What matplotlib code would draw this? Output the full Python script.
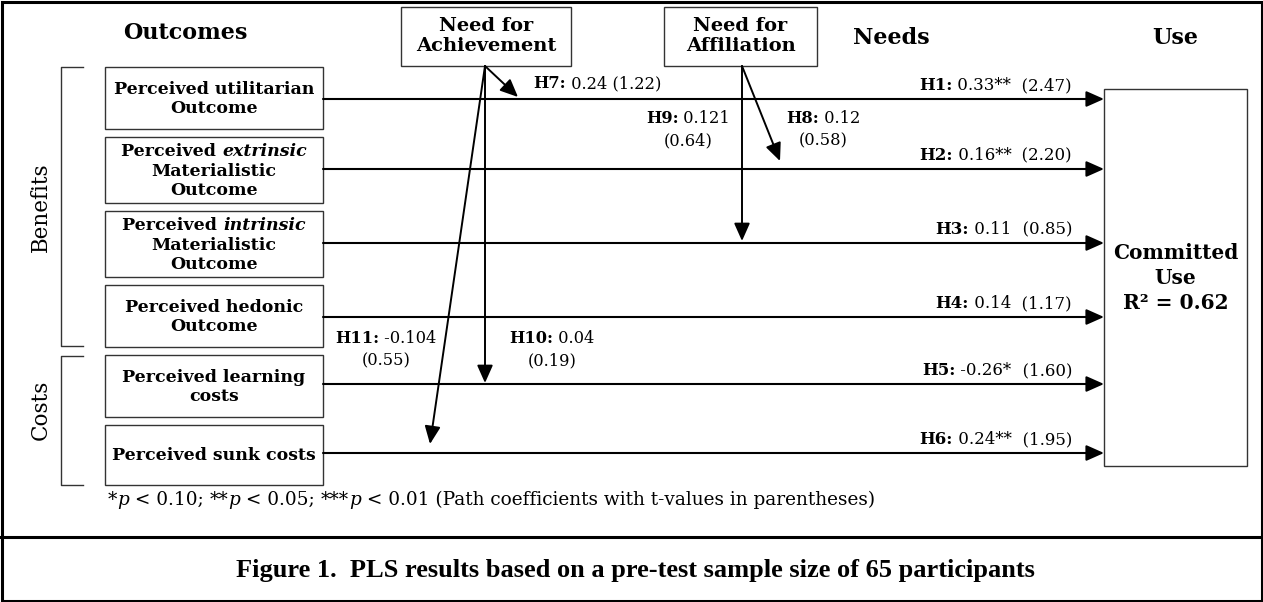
import matplotlib
matplotlib.use("Agg")
import matplotlib.pyplot as plt
from matplotlib.patches import Rectangle
from matplotlib.offsetbox import TextArea, HPacker, VPacker, AnnotationBbox

# ---------------- data ----------------
outcome_labels = [
    [[("Perceived utilitarian", "b")], [("Outcome", "b")]],
    [[("Perceived ", "b"), ("extrinsic", "bi")], [("Materialistic", "b")], [("Outcome", "b")]],
    [[("Perceived ", "b"), ("intrinsic", "bi")], [("Materialistic", "b")], [("Outcome", "b")]],
    [[("Perceived hedonic", "b")], [("Outcome", "b")]],
    [[("Perceived learning", "b")], [("costs", "b")]],
    [[("Perceived sunk costs", "b")]],
]
direct_ids = ["H1", "H2", "H3", "H4", "H5", "H6"]
direct_coef = ["0.33", "0.16", "0.11", "0.14", "-0.26", "0.24"]
direct_stars = ["**", "**", "", "", "*", "**"]
direct_t = ["2.47", "2.20", "0.85", "1.17", "1.60", "1.95"]

moder_ids = ["H7", "H8", "H9", "H10", "H11"]
moder_coef = ["0.24", "0.12", "0.121", "0.04", "-0.104"]
moder_t = ["1.22", "0.58", "0.64", "0.19", "0.55"]

headers = ["Outcomes", "Needs", "Use"]
needs = ["Need for\nAchievement", "Need for\nAffiliation"]
groups = ["Benefits", "Costs"]
target_label = ["Committed", "Use", "R² = 0.62"]
caption = "Figure 1.  PLS results based on a pre-test sample size of 65 participants"

# ---------------- layout ----------------
W, H = 1263, 602
SERIF = "DejaVu Serif"
fig = plt.figure(figsize=(W / 100, H / 100), dpi=100)
ax = fig.add_axes([0, 0, 1, 1])
ax.set_xlim(0, W)
ax.set_ylim(H, 0)
ax.axis("off")

STY = {"b": dict(fontweight="bold"), "bi": dict(fontweight="bold", fontstyle="italic"),
       "r": dict(), "i": dict(fontstyle="italic")}


def rich(lines, xy, size, align=(0.5, 0.5), halign="center", sep=1):
    rows = []
    for line in lines:
        kids = []
        for txt, st in line:
            tp = dict(fontfamily=SERIF, fontsize=size, color="black")
            tp.update(STY[st])
            kids.append(TextArea(txt, textprops=tp))
        rows.append(HPacker(children=kids, align="baseline", pad=0, sep=0))
    box = VPacker(children=rows, align=halign, pad=0, sep=sep)
    ab = AnnotationBbox(box, xy, xycoords="data", box_alignment=align, frameon=False, pad=0)
    ax.add_artist(ab)


def arrow(p0, p1, lw=1.5):
    ax.annotate("", xy=p1, xytext=p0, xycoords="data",
                arrowprops=dict(arrowstyle="-|>,head_length=0.9,head_width=0.4", lw=lw,
                                color="black", shrinkA=0, shrinkB=0, mutation_scale=12))


# frame
ax.add_patch(Rectangle((1.5, 1.5), W - 3, H - 3, fill=False, lw=2.2, ec="black"))
ax.plot([0, W], [537, 537], color="black", lw=2.2)

# headers
for txt, x, y in zip(headers, [185, 891, 1175], [33, 38, 38]):
    ax.text(x, y, txt, ha="center", va="center", fontfamily=SERIF, fontsize=16, fontweight="bold")

# outcome boxes
box_x0, box_x1 = 105, 323
box_tops = [67, 137, 211, 285, 355, 425]
box_bots = [129, 203, 277, 347, 417, 485]
line_y = [99, 169, 243, 317, 384, 453]
for i, lab in enumerate(outcome_labels):
    ax.add_patch(Rectangle((box_x0, box_tops[i]), box_x1 - box_x0, box_bots[i] - box_tops[i],
                           fill=False, lw=1.0, ec="#333333"))
    rich(lab, ((box_x0 + box_x1) / 2, (box_tops[i] + box_bots[i]) / 2 + 1), 12.5, sep=2)

# target box
tx0, tx1, ty0, ty1 = 1104, 1247, 89, 466
ax.add_patch(Rectangle((tx0, ty0), tx1 - tx0, ty1 - ty0, fill=False, lw=1.0, ec="#333333"))
ax.text((tx0 + tx1) / 2, 278, "\n".join(target_label), ha="center", va="center", fontfamily=SERIF,
        fontsize=14.5, fontweight="bold", linespacing=1.3)

# direct paths
for i in range(6):
    arrow((box_x1, line_y[i]), (tx0, line_y[i]), lw=1.5)
    parts = [(direct_ids[i] + ":", "b"), (" " + direct_coef[i] + direct_stars[i], "r"),
             ("  (" + direct_t[i] + ")", "r")]
    rich([parts], (1072, line_y[i] - 5), 12, align=(1, 0))

# need boxes
need_boxes = [(401, 571), (664, 817)]
for (x0, x1), txt in zip(need_boxes, needs):
    ax.add_patch(Rectangle((x0, 7), x1 - x0, 59, fill=False, lw=1.0, ec="#333333"))
    ax.text((x0 + x1) / 2, 36, txt, ha="center", va="center", fontfamily=SERIF, fontsize=14,
            fontweight="bold", linespacing=1.1)

# moderating arrows
ach, aff = (485, 66), (742, 66)
arrow(ach, (518, 97), lw=1.4)      # H7
arrow(ach, (485, 383), lw=1.4)     # H10
arrow(ach, (430, 444), lw=1.4)     # H11
arrow(aff, (742, 241), lw=1.4)     # H9
arrow(aff, (780, 161), lw=1.4)     # H8

mlab = dict(zip(moder_ids, zip(moder_coef, moder_t)))
MS = 11.7
rich([[("H7:", "b"), (" %s (%s)" % mlab["H7"], "r")]], (533, 84), MS, align=(0, 0.5))
rich([[("H9:", "b"), (" " + mlab["H9"][0], "r")], [("(%s)" % mlab["H9"][1], "r")]],
     (688, 130), MS, sep=4)
rich([[("H8:", "b"), (" " + mlab["H8"][0], "r")], [("(%s)" % mlab["H8"][1], "r")]],
     (823, 130), MS, sep=4)
rich([[("H11:", "b"), (" " + mlab["H11"][0], "r")], [("(%s)" % mlab["H11"][1], "r")]],
     (386, 350), MS, sep=4)
rich([[("H10:", "b"), (" " + mlab["H10"][0], "r")], [("(%s)" % mlab["H10"][1], "r")]],
     (552, 350), MS, sep=4)

# group brackets
for (y0, y1), txt, yc in zip([(67, 346), (356, 485)], groups, [207, 410]):
    ax.plot([83, 61, 61, 83], [y0, y0, y1, y1], color="#333333", lw=1.0)
    ax.text(41, yc, txt, rotation=90, ha="center", va="center", fontfamily=SERIF, fontsize=15.5)

# footnote
fn = [("*", "r"), ("p", "i"), (" < 0.10; ", "r"), ("**", "r"), ("p", "i"),
      (" < 0.05; ", "r"), ("***", "r"), ("p", "i"),
      (" < 0.01 (Path coefficients with t-values in parentheses)", "r")]
rich([fn], (108, 500), 13.3, align=(0, 0.5))

# caption
ax.text(635, 570, caption, ha="center", va="center", fontfamily="Liberation Serif", fontsize=19,
        fontweight="bold")

fig.savefig("out.png", dpi=100)
